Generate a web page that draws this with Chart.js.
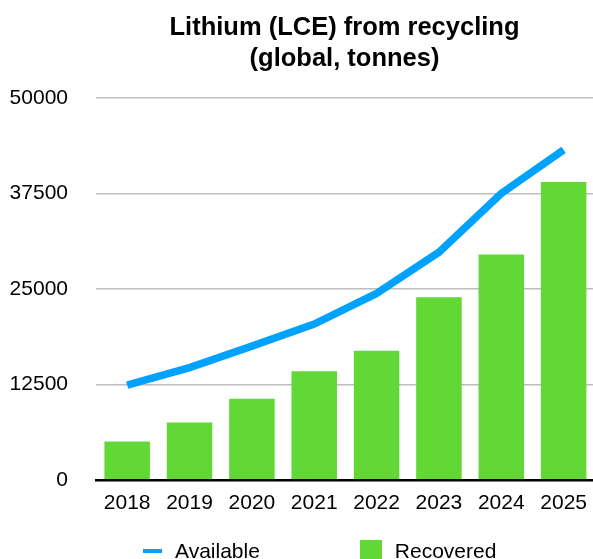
<!DOCTYPE html>
<html>
<head>
<meta charset="utf-8">
<script src="https://cdn.jsdelivr.net/npm/chart.js@4/dist/chart.umd.min.js"></script>
<style>
  body { margin: 0; background: #fff; font-family: "Liberation Sans", Arial, Helvetica, sans-serif; }
  #wrap { position: relative; width: 593px; height: 559px; overflow: hidden; }
  #plot { position: absolute; left: 0; top: 0; width: 598px; height: 559px; }
  #title {
    position: absolute; left: 96px; right: 0; top: 11px;
    text-align: center; font-weight: bold; font-size: 25.5px; line-height: 31px; color: #000;
  }
  #legend {
    position: absolute; left: 143px; top: 539px; height: 24px;
    display: flex; align-items: center; font-size: 21px; color: #000;
  }
  .item { display: flex; align-items: center; }
  .item + .item { margin-left: 100px; }
  .mark { margin-right: 13px; }
</style>
</head>
<body>
<div id="wrap">
  <div id="plot"><canvas id="chart"></canvas></div>
  <div id="title">Lithium (LCE) from recycling<br>(global, tonnes)</div>
  <div id="legend"></div>
</div>
<script>
const years = ["2018", "2019", "2020", "2021", "2022", "2023", "2024", "2025"];
const available = [12400, 14700, 17500, 20400, 24400, 29800, 37500, 43200];
const recovered = [5000, 7500, 10600, 14200, 16900, 23900, 29500, 39000];
const yTicks = [0, 12500, 25000, 37500, 50000];

const font = "'Liberation Sans', Arial, Helvetica, sans-serif";
const ctx = document.getElementById("chart").getContext("2d");

const chart = new Chart(ctx, {
  type: "bar",
  data: {
    labels: years,
    datasets: [
      {
        type: "line",
        label: "Available",
        data: available,
        borderColor: "#00a2ff",
        backgroundColor: "#00a2ff",
        borderWidth: 7.5,
        pointRadius: 0,
        tension: 0,
        order: 0,
      },
      {
        type: "bar",
        label: "Recovered",
        data: recovered,
        backgroundColor: "#61d836",
        barPercentage: 0.73,
        categoryPercentage: 1,
        order: 1,
      },
    ],
  },
  options: {
    responsive: true,
    maintainAspectRatio: false,
    animation: false,
    layout: { padding: { top: 98, right: 0, bottom: 32, left: 0 } },
    plugins: {
      legend: { display: false },
      title: { display: false },
      tooltip: { enabled: false },
    },
    scales: {
      x: {
        grid: { display: false, drawTicks: false },
        border: { display: true, color: "#000", width: 2.5 },
        ticks: { color: "#000", font: { family: font, size: 21 }, padding: 11 },
      },
      y: {
        min: 0,
        max: 50000,
        afterBuildTicks: (scale) => {
          scale.ticks = yTicks.map((v) => ({ value: v }));
        },
        afterFit: (scale) => {
          scale.width = 96;
        },
        grid: { color: "#bdbdbd", lineWidth: 1.5, drawTicks: false },
        border: { display: false },
        ticks: {
          color: "#000",
          font: { family: font, size: 21 },
          padding: 28,
          callback: (v) => String(v),
        },
      },
    },
  },
});

// legend built from the datasets
const legend = document.getElementById("legend");
chart.data.datasets.forEach((ds) => {
  const item = document.createElement("span");
  item.className = "item";
  const mark = document.createElement("span");
  mark.className = "mark";
  mark.style.background = ds.backgroundColor;
  if (ds.type === "line") {
    mark.style.width = "19px";
    mark.style.height = "4px";
  } else {
    mark.style.width = "22px";
    mark.style.height = "22px";
  }
  const text = document.createElement("span");
  text.textContent = ds.label;
  item.appendChild(mark);
  item.appendChild(text);
  legend.appendChild(item);
});
</script>
</body>
</html>
